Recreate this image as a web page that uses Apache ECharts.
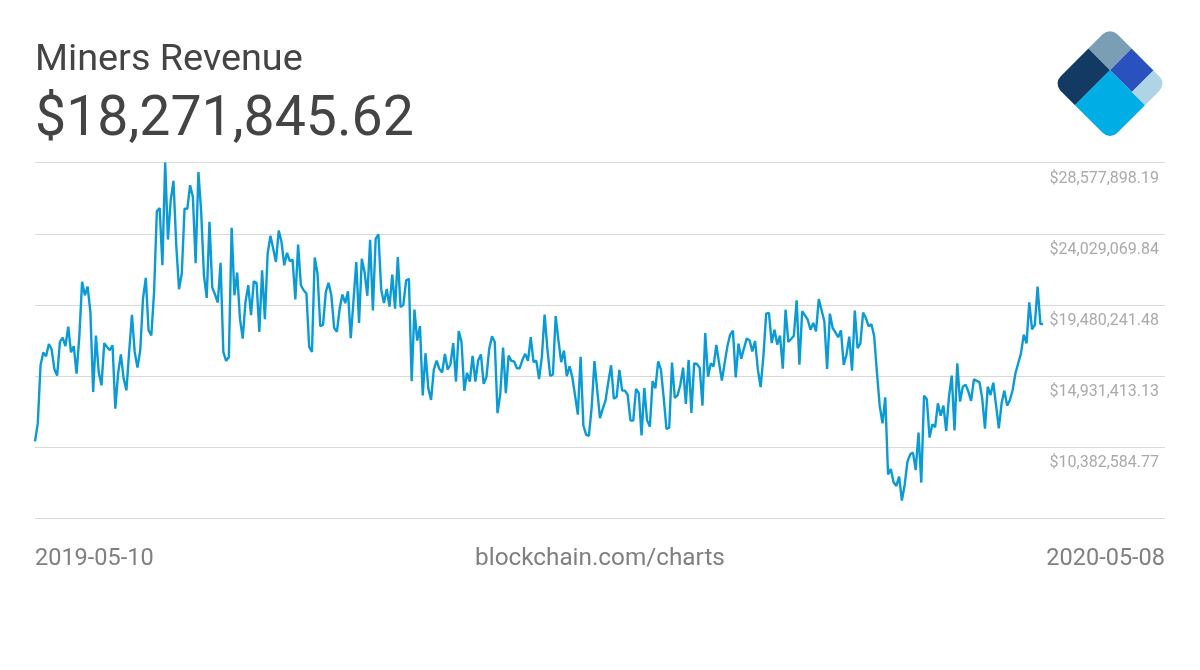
<!DOCTYPE html>
<html>
<head>
<meta charset="utf-8">
<title>Miners Revenue</title>
<script src="https://cdn.jsdelivr.net/npm/echarts@6/dist/echarts.min.js"></script>
<style>
html, body { margin: 0; padding: 0; background: #fff; }
#chart { width: 1200px; height: 670px; }
</style>
</head>
<body>
<div id="chart"></div>
<script>
// daily revenue, millions of USD
const revenue = [
	10.77, 11.90, 15.63, 16.44, 16.21, 16.99, 16.65, 15.38, 14.97, 17.12, 17.40, 16.85, 18.10, 16.46, 16.85,
	15.10, 17.44, 20.96, 20.10, 20.66, 19.04, 13.93, 17.53, 15.20, 14.35, 17.04, 16.80, 16.59, 16.91, 12.86,
	15.10, 16.33, 14.78, 14.03, 16.48, 18.85, 16.48, 15.48, 16.59, 19.89, 21.21, 17.87, 17.53, 20.32, 25.47,
	25.68, 22.02, 28.58, 23.66, 26.17, 27.41, 23.30, 20.49, 21.49, 25.64, 25.62, 27.13, 26.39, 22.15, 27.98,
	25.43, 21.38, 19.93, 24.79, 20.59, 20.15, 19.64, 22.17, 16.48, 15.91, 16.16, 24.41, 20.10, 21.55, 18.61,
	17.33, 19.68, 20.74, 18.83, 21.00, 20.89, 17.76, 21.70, 18.57, 22.77, 23.90, 23.09, 22.23, 24.24, 23.51,
	22.02, 22.81, 22.28, 22.38, 19.83, 23.34, 20.74, 20.42, 20.21, 16.80, 16.48, 22.51, 21.49, 18.13, 18.21,
	20.30, 20.90, 20.09, 18.02, 17.77, 19.24, 20.15, 19.60, 20.36, 17.36, 19.77, 22.22, 18.34, 22.43, 21.58,
	20.07, 23.64, 19.13, 23.71, 23.99, 20.45, 19.60, 20.51, 19.38, 21.43, 19.24, 22.54, 19.34, 19.49, 21.05,
	21.15, 14.61, 19.19, 17.21, 18.13, 13.70, 16.40, 14.17, 13.42, 15.36, 15.93, 15.40, 15.17, 16.36, 15.36,
	15.68, 17.04, 14.59, 17.81, 17.11, 14.00, 15.15, 14.59, 16.23, 14.59, 15.93, 16.32, 14.44, 14.87, 16.68,
	17.49, 17.11, 12.57, 13.80, 16.76, 13.85, 16.25, 15.91, 15.87, 15.44, 15.44, 15.98, 16.36, 15.91, 17.42,
	15.83, 15.93, 14.74, 16.15, 18.87, 16.68, 14.95, 15.04, 18.77, 17.21, 15.83, 16.57, 14.93, 15.57, 14.87,
	13.70, 12.48, 16.17, 11.78, 11.18, 11.12, 12.95, 15.89, 14.02, 12.25, 12.85, 13.38, 14.55, 15.63, 13.50,
	13.60, 15.33, 14.01, 14.01, 13.73, 12.09, 12.09, 14.11, 13.86, 11.15, 14.18, 12.11, 11.71, 14.62, 14.16,
	15.88, 15.35, 13.54, 11.56, 11.64, 15.80, 13.54, 13.71, 14.37, 15.48, 13.16, 15.97, 12.58, 15.75, 15.71,
	15.46, 13.05, 17.69, 14.90, 15.75, 15.56, 16.93, 15.77, 14.65, 15.77, 16.84, 17.59, 17.84, 14.86, 17.01,
	16.05, 16.73, 17.35, 17.22, 16.52, 17.18, 15.35, 14.24, 16.20, 18.93, 18.97, 17.05, 17.90, 16.95, 17.52,
	15.41, 19.18, 17.12, 17.31, 17.52, 19.78, 15.67, 19.08, 18.82, 18.54, 17.90, 18.33, 17.80, 19.86, 19.14,
	18.44, 15.39, 18.93, 18.01, 17.73, 17.42, 17.86, 15.65, 16.31, 17.46, 15.29, 19.12, 16.73, 17.01, 18.99,
	18.65, 18.12, 18.25, 17.48, 15.14, 13.03, 11.92, 13.58, 8.66, 9.00, 8.15, 7.92, 8.51, 6.98, 7.98,
	9.47, 9.94, 10.05, 8.94, 11.33, 8.13, 13.69, 13.46, 11.01, 11.86, 11.67, 13.20, 12.41, 13.05, 11.43,
	13.63, 14.97, 11.47, 15.76, 13.31, 14.26, 14.39, 13.95, 13.35, 14.73, 14.63, 14.56, 13.52, 11.58, 14.26,
	13.73, 14.52, 13.09, 11.60, 13.20, 14.01, 13.05, 13.41, 14.05, 15.12, 15.76, 16.39, 17.59, 17.03, 19.65,
	17.93, 18.21, 20.65, 18.27, 18.27
];
const startDate = '2019-05-10';
const endDate = '2020-05-08';
const tickLabels = ['', '$10,382,584.77', '$14,931,413.13', '$19,480,241.48', '$24,029,069.84', '$28,577,898.19'];
const yMin = 5.83375642;
const yStep = 4.54882835;

const DAY = 86400000;
const start = new Date(startDate + 'T00:00:00Z').getTime();
let seriesData = [];
for (let i = 0; i < revenue.length; i++) {
	seriesData.push([start + i * DAY, revenue[i]]);
}

const chart = echarts.init(document.getElementById('chart'), null, { renderer: 'canvas' });
chart.setOption({
	animation: false,
	backgroundColor: '#fff',
	title: [
		{ text: 'Miners Revenue', left: 30, top: 37, textStyle: { color: '#444', fontFamily: 'Roboto', fontWeight: 400, fontSize: 37.8 } },
		{ text: '$18,271,845.62', left: 30, top: 89, textStyle: { color: '#444', fontFamily: 'Roboto', fontWeight: 400, fontSize: 55.4 } }
	],
	grid: { left: 35, right: 35, top: 162.6, bottom: 151.4 },
	xAxis: {
		type: 'time',
		min: start,
		max: start + 408 * DAY,
		axisLine: { show: false },
		axisTick: { show: false },
		axisLabel: { show: false },
		splitLine: { show: false }
	},
	yAxis: {
		type: 'value',
		position: 'right',
		min: yMin,
		max: yMin + 5 * yStep,
		interval: yStep,
		axisLine: { show: false },
		axisTick: { show: false },
		splitLine: { lineStyle: { color: '#d9d9d9', width: 1 } },
		axisLabel: {
			inside: true,
			margin: 6,
			verticalAlign: 'top',
			padding: [8, 0, 0, 0],
			color: '#aaa',
			fontFamily: 'Roboto',
			fontSize: 16,
			formatter: function (value, index) {
				return tickLabels[index];
			}
		}
	},
	series: [{
		type: 'line',
		data: seriesData,
		showSymbol: false,
		smooth: false,
		clip: false,
		lineStyle: { color: '#0a9bd6', width: 2.4 }
	}],
	graphic: [
		{
			type: 'text',
			left: 35,
			top: 547,
			style: { text: startDate, fill: '#808080', font: '400 23.5px Roboto' }
		},
		{
			type: 'text',
			left: 'center',
			top: 547,
			style: { text: 'blockchain.com/charts', fill: '#808080', font: '400 24.3px Roboto' }
		},
		{
			type: 'text',
			right: 35,
			top: 547,
			style: { text: endDate, fill: '#808080', font: '400 23.5px Roboto' }
		},
		{
			type: 'group',
			x: 1110,
			y: 27,
			rotation: -Math.PI / 4,
			children: [
				{ type: 'rect', shape: { x: 0, y: 0, width: 30.5, height: 30.5, r: [10, 0, 0, 0] }, style: { fill: '#7a9fb5' } },
				{ type: 'rect', shape: { x: 0, y: 30.5, width: 30.5, height: 49.5, r: [0, 0, 0, 10] }, style: { fill: '#123a63' } },
				{ type: 'rect', shape: { x: 30.5, y: 0, width: 31, height: 30.5 }, style: { fill: '#2a52be' } },
				{ type: 'rect', shape: { x: 61.5, y: 0, width: 18.5, height: 30.5, r: [0, 10, 0, 0] }, style: { fill: '#afd4e6' } },
				{ type: 'rect', shape: { x: 30.5, y: 30.5, width: 49.5, height: 49.5, r: [0, 0, 10, 0] }, style: { fill: '#00aee6' } }
			]
		}
	]
});
</script>
</body>
</html>
